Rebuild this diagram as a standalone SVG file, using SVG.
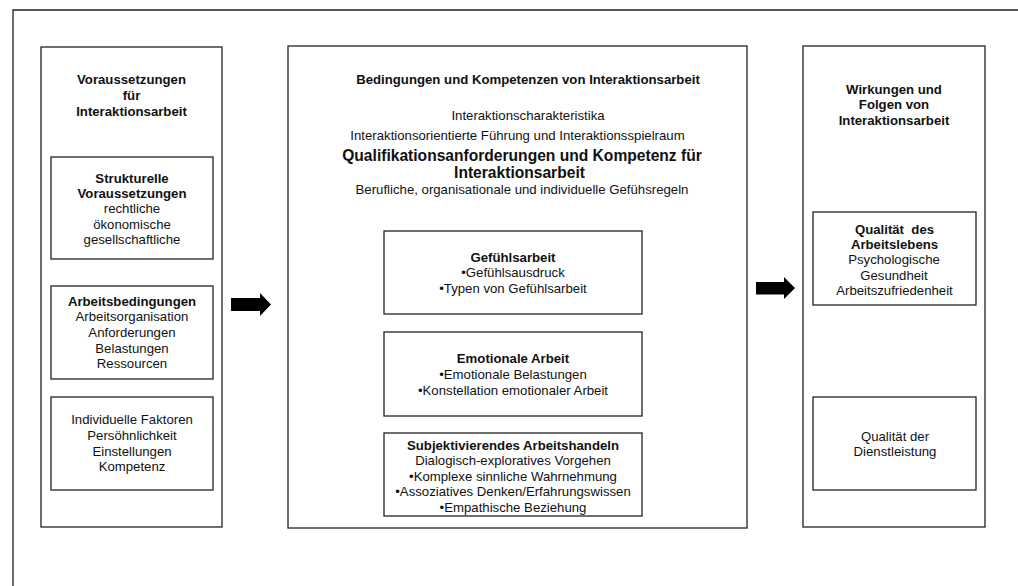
<svg xmlns="http://www.w3.org/2000/svg" width="1018" height="586" viewBox="0 0 1018 586">
<style>
.box{fill:#fff;stroke:#222;stroke-width:1.3}
.frame{fill:none;stroke:#222;stroke-width:1.3}
text{font-family:"Liberation Sans",Arial,sans-serif;font-size:13.2px;fill:#111;text-anchor:middle}
.b{font-weight:bold}
.big{font-weight:bold;font-size:15.6px}
.arrow{fill:#000}
</style>
<rect x="0" y="0" width="1018" height="586" fill="#fff"/>
<path class="frame" d="M13 586 V10 H1018"/>

<g id="col-left">
<rect class="box" x="41" y="47" width="181" height="480"/>
<text class="b" x="131.5" y="84">Voraussetzungen</text>
<text class="b" x="131.5" y="100">für</text>
<text class="b" x="131.5" y="116">Interaktionsarbeit</text>
</g>
<g id="strukturelle">
<rect class="box" x="51" y="157" width="162" height="102"/>
<text class="b" x="132" y="183">Strukturelle</text>
<text class="b" x="132" y="198">Voraussetzungen</text>
<text x="132" y="213">rechtliche</text>
<text x="132" y="229">ökonomische</text>
<text x="132" y="244">gesellschaftliche</text>
</g>
<g id="arbeitsbedingungen">
<rect class="box" x="51" y="286" width="162" height="93"/>
<text class="b" x="132" y="306">Arbeitsbedingungen</text>
<text x="132" y="321">Arbeitsorganisation</text>
<text x="132" y="337">Anforderungen</text>
<text x="132" y="353">Belastungen</text>
<text x="132" y="368">Ressourcen</text>
</g>
<g id="individuelle">
<rect class="box" x="51" y="397" width="162" height="93"/>
<text x="132" y="424">Individuelle Faktoren</text>
<text x="132" y="440">Persöhnlichkeit</text>
<text x="132" y="456">Einstellungen</text>
<text x="132" y="471">Kompetenz</text>
</g>

<g id="col-middle">
<rect class="box" x="288" y="46" width="459" height="482"/>
<text class="b" x="528" y="84">Bedingungen und Kompetenzen von Interaktionsarbeit</text>
<text x="528" y="120">Interaktionscharakteristika</text>
<text x="517.5" y="140">Interaktionsorientierte Führung und Interaktionsspielraum</text>
<text class="big" x="522" y="161">Qualifikationsanforderungen und Kompetenz für</text>
<text class="big" x="519.5" y="178">Interaktionsarbeit</text>
<text x="522" y="194">Berufliche, organisationale und individuelle Gefühsregeln</text>
</g>
<g id="gefuehlsarbeit">
<rect class="box" x="384" y="231" width="258" height="83"/>
<text class="b" x="513" y="262">Gefühlsarbeit</text>
<text x="513" y="277">•Gefühlsausdruck</text>
<text x="513" y="293">•Typen von Gefühlsarbeit</text>
</g>
<g id="emotionale-arbeit">
<rect class="box" x="384" y="332" width="258" height="84"/>
<text class="b" x="513" y="363">Emotionale Arbeit</text>
<text x="513" y="379">•Emotionale Belastungen</text>
<text x="513" y="395">•Konstellation emotionaler Arbeit</text>
</g>
<g id="subjektivierendes">
<rect class="box" x="384" y="433" width="258" height="83"/>
<text class="b" x="513" y="450">Subjektivierendes Arbeitshandeln</text>
<text x="513" y="465">Dialogisch-exploratives Vorgehen</text>
<text x="513" y="481">•Komplexe sinnliche Wahrnehmung</text>
<text x="513" y="496">•Assoziatives Denken/Erfahrungswissen</text>
<text x="513" y="512">•Empathische Beziehung</text>
</g>

<g id="col-right">
<rect class="box" x="803" y="46" width="182" height="481"/>
<text class="b" x="894" y="94">Wirkungen und</text>
<text class="b" x="894" y="109">Folgen von</text>
<text class="b" x="894" y="125">Interaktionsarbeit</text>
</g>
<g id="qualitaet-arbeitsleben">
<rect class="box" x="813" y="212" width="163" height="93"/>
<text class="b" x="894.5" y="234" xml:space="preserve">Qualität  des</text>
<text class="b" x="894.5" y="249">Arbeitslebens</text>
<text x="894" y="264">Psychologische</text>
<text x="894" y="280">Gesundheit</text>
<text x="894.5" y="295">Arbeitszufriedenheit</text>
</g>
<g id="qualitaet-dienstleistung">
<rect class="box" x="813" y="397" width="163" height="93"/>
<text x="895" y="441">Qualität der</text>
<text x="895" y="456">Dienstleistung</text>
</g>

<g id="connectors">
<polygon class="arrow" points="231,298 260,298 260,293 271,304.5 260,316 260,311 231,311"/>
<polygon class="arrow" points="756,282 784,282 784,277 795,288 784,299 784,294.5 756,294.5"/>
</g>
</svg>
